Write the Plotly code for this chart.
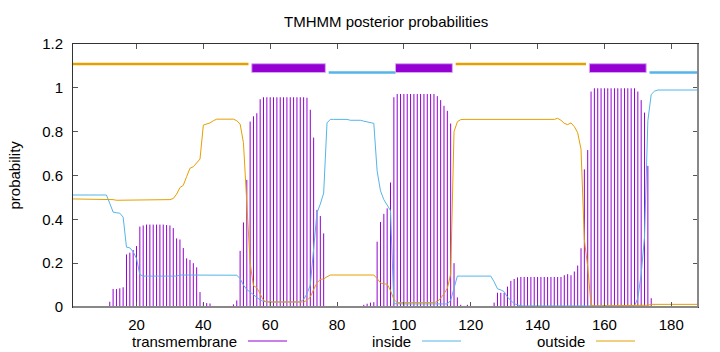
import plotly.graph_objects as go

# ---------------- data ----------------
residues = list(range(1, 189))

transmembrane = [
    0, 0, 0, 0, 0, 0, 0, 0, 0, 0, 0,
    0.024, 0.082, 0.082, 0.085, 0.09, 0.24, 0.248, 0.26, 0.278, 0.367,
    0.372, 0.376, 0.376, 0.376, 0.376, 0.376, 0.376, 0.374, 0.372, 0.36,
    0.313, 0.308, 0.269, 0.222, 0.215, 0.2, 0.181, 0.068, 0.02, 0.018, 0.016,
    0, 0, 0, 0, 0, 0,
    0.012, 0.03, 0.256, 0.386, 0.58, 0.846, 0.87, 0.884, 0.948,
    0.957, 0.957, 0.957, 0.957, 0.957, 0.957, 0.957, 0.957, 0.957, 0.957, 0.957, 0.957, 0.957,
    0.955, 0.9, 0.773, 0.443, 0.415, 0.336,
    0, 0, 0.005,
    0, 0, 0, 0, 0, 0, 0, 0,
    0.01, 0.015, 0.02, 0.022, 0.298, 0.388, 0.425, 0.45, 0.568, 0.957,
    0.972, 0.972, 0.972, 0.972, 0.972, 0.972, 0.972, 0.972, 0.972, 0.972, 0.972, 0.972,
    0.962, 0.944, 0.918, 0.895, 0.837, 0.2, 0.044, 0.01, 0.005, 0.01,
    0, 0, 0, 0, 0, 0, 0,
    0.02, 0.065, 0.065, 0.065, 0.093, 0.119, 0.128, 0.135,
    0.137, 0.137, 0.137, 0.137, 0.137, 0.137, 0.137, 0.137, 0.137, 0.137, 0.137, 0.137, 0.137,
    0.145, 0.15, 0.145, 0.162, 0.189, 0.268, 0.628, 0.716, 0.983,
    0.998, 0.998, 0.998, 0.998, 0.998, 0.998, 0.998, 0.998, 0.998, 0.998, 0.998, 0.998, 0.998,
    0.983, 0.944, 0.887, 0.644, 0.04, 0.005,
    0, 0, 0, 0, 0, 0, 0, 0, 0, 0, 0, 0, 0,
]

inside = [
    0.511, 0.511, 0.511, 0.511, 0.511, 0.511, 0.511, 0.511, 0.511, 0.511, 0.511,
    0.473, 0.433, 0.43, 0.428, 0.41, 0.273, 0.27, 0.252, 0.222, 0.148,
    0.141, 0.141, 0.141, 0.141, 0.141, 0.141, 0.141, 0.141, 0.141, 0.141, 0.141,
    0.146, 0.146, 0.146, 0.146, 0.146, 0.146, 0.146, 0.146,
    0.148, 0.148, 0.148, 0.148, 0.148, 0.148, 0.148, 0.148, 0.148,
    0.145, 0.13, 0.1, 0.08, 0.068, 0.057, 0.045, 0.032, 0.025,
    0.023, 0.023, 0.023, 0.023, 0.023, 0.023, 0.023, 0.023, 0.023, 0.023, 0.023,
    0.035, 0.06, 0.1, 0.25, 0.43, 0.47, 0.52, 0.84,
    0.856, 0.856, 0.856, 0.856, 0.856, 0.856,
    0.852, 0.852, 0.852, 0.852,
    0.848, 0.845, 0.842, 0.838, 0.62, 0.53, 0.49, 0.465, 0.44, 0.015,
    0.014, 0.014, 0.014, 0.014, 0.014, 0.014, 0.014, 0.014,
    0.014, 0.014, 0.014, 0.014, 0.014, 0.014, 0.014, 0.014,
    0.03, 0.08, 0.141,
    0.141, 0.141, 0.141, 0.141, 0.141, 0.141, 0.141, 0.141, 0.141, 0.141,
    0.115, 0.083, 0.078, 0.07, 0.045, 0.028, 0.015, 0.01,
    0.005, 0.005, 0.005, 0.005, 0.005, 0.005, 0.005, 0.005, 0.005, 0.005,
    0.005, 0.005, 0.005, 0.005, 0.005, 0.005, 0.005, 0.005, 0.005, 0.005,
    0.005, 0.005, 0.005, 0.005, 0.005, 0.005, 0.005, 0.005, 0.005, 0.005,
    0.005, 0.005, 0.005, 0.005, 0.005,
    0.04, 0.15, 0.32, 0.85, 0.97, 0.985,
    0.99, 0.99, 0.99, 0.99, 0.99, 0.99, 0.99, 0.99, 0.99, 0.99, 0.99, 0.99, 0.99,
]

outside = [
    0.493, 0.493, 0.493, 0.493, 0.493, 0.493, 0.493, 0.493, 0.493, 0.493, 0.493, 0.493,
    0.49,
    0.487, 0.487, 0.487, 0.487, 0.487, 0.487, 0.487, 0.487,
    0.487, 0.487, 0.487, 0.487, 0.487, 0.487, 0.487, 0.487,
    0.49, 0.495, 0.515, 0.545, 0.555, 0.595, 0.633, 0.64, 0.66, 0.675,
    0.83, 0.836, 0.84, 0.85,
    0.857, 0.857, 0.857, 0.857, 0.857, 0.857,
    0.85, 0.835, 0.75, 0.45, 0.2, 0.097, 0.088, 0.06, 0.03,
    0.023, 0.023, 0.023, 0.023, 0.023, 0.023, 0.023, 0.023, 0.023, 0.023, 0.023, 0.023,
    0.03, 0.045, 0.08, 0.11, 0.126, 0.128, 0.138,
    0.146, 0.146, 0.146, 0.146, 0.146, 0.146, 0.146, 0.146, 0.146, 0.146, 0.146, 0.146, 0.146, 0.146,
    0.13, 0.11, 0.105, 0.105, 0.075, 0.035,
    0.02, 0.02, 0.02, 0.02, 0.02, 0.02, 0.02, 0.02, 0.02, 0.02, 0.02, 0.02,
    0.025, 0.04, 0.06, 0.085, 0.15, 0.8, 0.845, 0.855,
    0.856, 0.856, 0.856, 0.856, 0.856, 0.856, 0.856, 0.856, 0.856, 0.856,
    0.856, 0.856, 0.856, 0.856, 0.856, 0.856, 0.856, 0.856, 0.856, 0.856,
    0.856, 0.856, 0.856, 0.856, 0.856, 0.856, 0.856, 0.856,
    0.861, 0.852, 0.838, 0.832, 0.84, 0.823, 0.795, 0.72, 0.306, 0.184, 0.009,
    0.005, 0.005, 0.005, 0.005, 0.005, 0.005, 0.005, 0.005,
    0.005, 0.005, 0.005, 0.005, 0.005, 0.005, 0.005, 0.005,
    0.008,
    0.012, 0.012, 0.012, 0.012, 0.012, 0.012, 0.012, 0.012,
    0.012, 0.012, 0.012, 0.012, 0.012, 0.012, 0.012,
]

# predicted topology
region_type = ["outside", "TMhelix", "inside", "TMhelix", "outside", "TMhelix", "inside"]
region_start = [1, 55, 77, 98, 115, 156, 173]
region_end = [54, 76, 97, 114, 155, 172, 188]

x_ticks = [20, 40, 60, 80, 100, 120, 140, 160, 180]
y_ticks = [0, 0.2, 0.4, 0.6, 0.8, 1.0, 1.2]
y_tick_labels = ["0", "0.2", "0.4", "0.6", "0.8", "1", "1.2"]

title = "TMHMM posterior probabilities"
y_title = "probability"
legend_names = ["transmembrane", "inside", "outside"]

# ---------------- style ----------------
C_TM = "#9400D3"
C_IN = "#56B4E9"
C_OUT = "#E69F00"
FONT = "Liberation Sans, Arial, sans-serif"
W, H = 720, 352
L, R, T, B = 73, 22, 44, 45
PW, PH = W - L - R, H - T - B

fig = go.Figure()

# impulses for transmembrane
ix, iy = [], []
for r, v in zip(residues, transmembrane):
    if v > 0:
        ix += [r, r, None]
        iy += [0, v, None]
fig.add_trace(go.Scatter(x=ix, y=iy, mode="lines", line=dict(color=C_TM, width=1),
                         hoverinfo="skip", showlegend=False))
fig.add_trace(go.Scatter(x=residues, y=inside, mode="lines", line=dict(color=C_IN, width=1),
                         showlegend=False))
fig.add_trace(go.Scatter(x=residues, y=outside, mode="lines", line=dict(color=C_OUT, width=1),
                         showlegend=False))

# topology bars on top
for t, s, e in zip(region_type, region_start, region_end):
    x0 = s if s == residues[0] else s + 0.5
    if t == "TMhelix":
        fig.add_trace(go.Scatter(
            x=[s - 0.5, e + 0.5, e + 0.5, s - 0.5, s - 0.5],
            y=[1.07, 1.07, 1.11, 1.11, 1.07],
            mode="lines", fill="toself", fillcolor=C_TM,
            line=dict(color="#d9a6f0", width=1), showlegend=False, hoverinfo="skip"))
    elif t == "outside":
        fig.add_trace(go.Scatter(x=[x0, e - 0.5], y=[1.109, 1.109], mode="lines",
                                 line=dict(color=C_OUT, width=2.5), showlegend=False,
                                 hoverinfo="skip"))
    else:
        fig.add_trace(go.Scatter(x=[x0, e + 0.5], y=[1.07, 1.07], mode="lines",
                                 line=dict(color=C_IN, width=2.5), showlegend=False,
                                 hoverinfo="skip"))

axis_common = dict(showgrid=False, zeroline=False, showline=True, mirror="ticks",
                   linecolor="#333333", linewidth=1, ticks="inside", ticklen=5,
                   tickcolor="#555555", tickwidth=1,
                   tickfont=dict(family=FONT, size=15, color="black"))

fig.update_layout(
    width=W, height=H,
    margin=dict(l=L, r=R, t=T, b=B, pad=0),
    paper_bgcolor="white", plot_bgcolor="white",
    font=dict(family=FONT, size=15, color="black"),
    xaxis=dict(range=[1, 188], tickvals=x_ticks, ticklabelstandoff=4, **axis_common),
    yaxis=dict(range=[0, 1.2], tickvals=y_ticks, ticktext=y_tick_labels,
               ticklabelstandoff=6, **axis_common),
    showlegend=False,
)

# bottom / right border heavier gray
fig.add_shape(type="line", xref="paper", yref="paper", x0=0, x1=1, y0=0, y1=0,
              line=dict(color="#888888", width=2))
fig.add_shape(type="line", xref="paper", yref="paper", x0=1, x1=1, y0=0, y1=1,
              line=dict(color="#888888", width=2))

# title
fig.add_annotation(text=title, xref="paper", yref="paper", x=0.5,
                   y=1 + (T - 22) / PH, xanchor="center", yanchor="middle",
                   showarrow=False, font=dict(family=FONT, size=15, color="black"))
# y title
fig.add_annotation(text=y_title, xref="paper", yref="paper", x=(14 - L) / PW, y=0.5,
                   xanchor="center", yanchor="middle", textangle=-90,
                   showarrow=False, font=dict(family=FONT, size=15, color="black"))

# legend (gnuplot style: text then sample)
text_ends = [239, 413, 587]
colors = [C_TM, C_IN, C_OUT]
ly = -(341 - (T + PH)) / PH
for name, xe, c in zip(legend_names, text_ends, colors):
    fig.add_annotation(text=name, xref="paper", yref="paper", x=(xe - L) / PW, y=ly,
                       xanchor="right", yanchor="middle", showarrow=False,
                       font=dict(family=FONT, size=15, color="black"))
    fig.add_shape(type="line", xref="paper", yref="paper",
                  x0=(xe + 9 - L) / PW, x1=(xe + 48 - L) / PW, y0=ly, y1=ly,
                  line=dict(color=c, width=1))

fig.write_html("out.html")
